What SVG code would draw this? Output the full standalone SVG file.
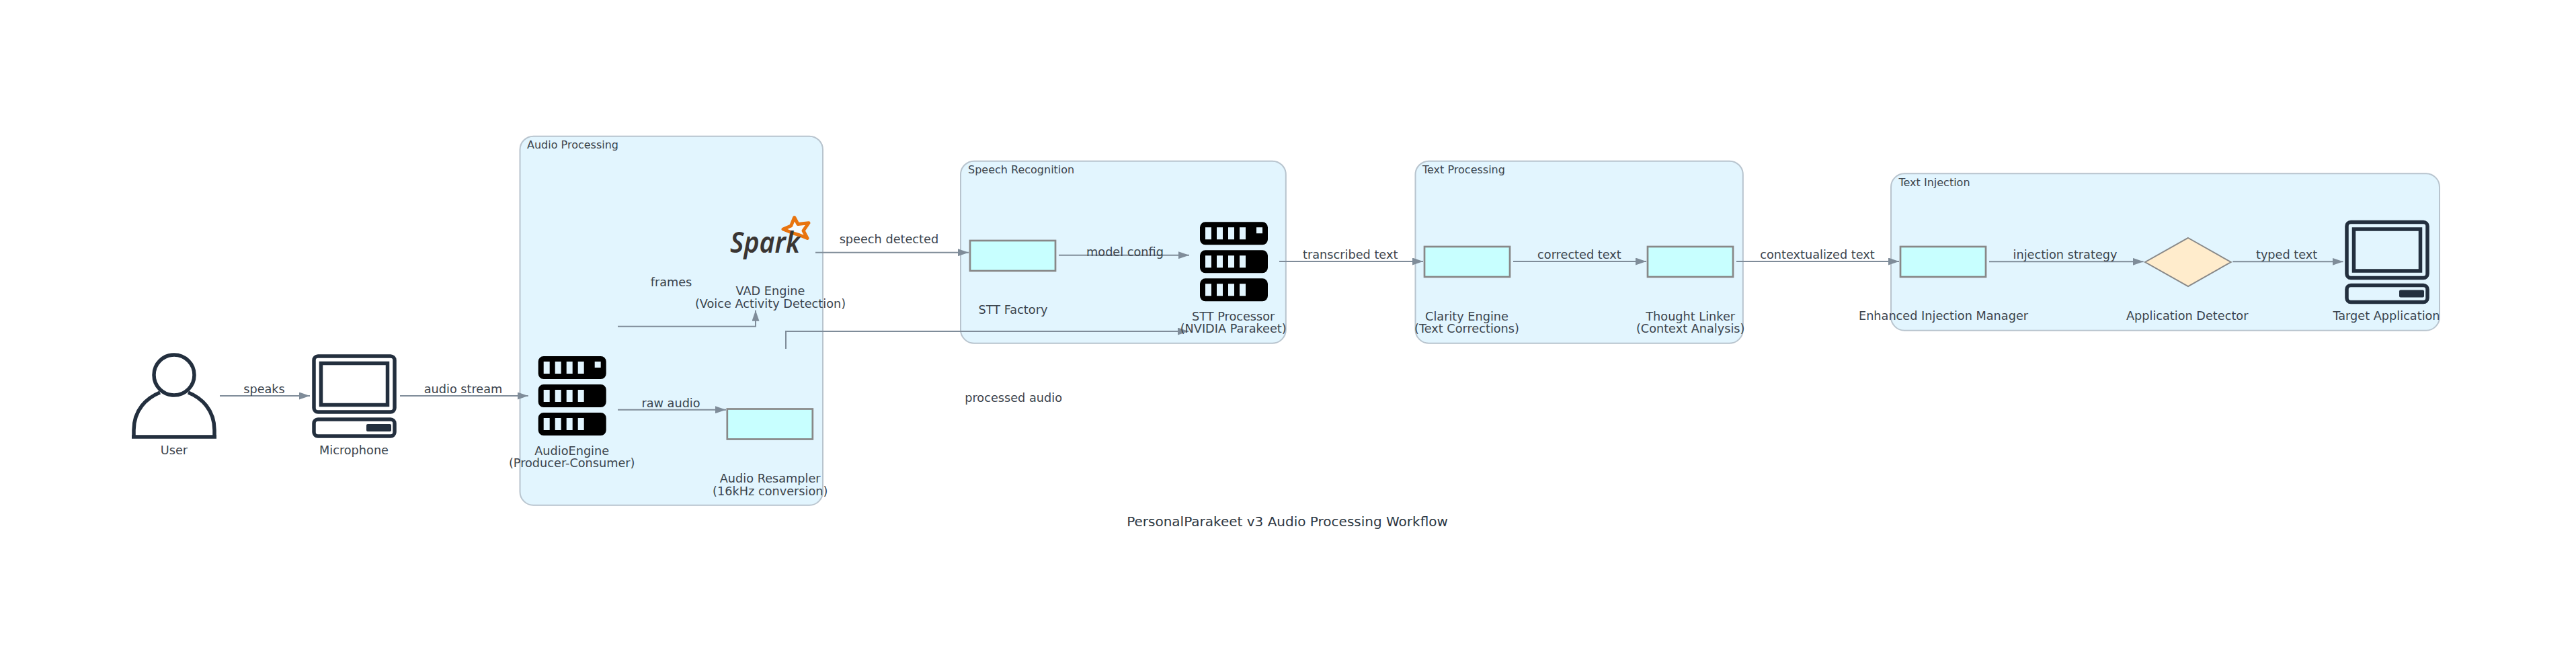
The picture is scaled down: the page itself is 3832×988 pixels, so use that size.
<svg xmlns="http://www.w3.org/2000/svg" width="3832" height="988" viewBox="0 0 3832 988">
<style>
text{font-family:"DejaVu Sans",sans-serif;font-size:17.7px;fill:#3b444d;text-anchor:middle}
.c{fill:#e2f5fe;stroke:#b8c4ce;stroke-width:2}
.ct{text-anchor:start;font-size:16px}
.r{fill:#c8ffff;stroke:#888;stroke-width:2.7}
.l{fill:none;stroke:#7f8c99;stroke-width:2;marker-end:url(#a)}
.i{fill:none;stroke:#232f3e;stroke-width:5.500}
.if{fill:#232f3e}
.title{font-size:20px;fill:#2f3842}
</style>
<defs>
<marker id="a" viewBox="0 0 16 11" refX="16" refY="5.5" markerWidth="16" markerHeight="11" markerUnits="userSpaceOnUse" orient="auto"><path d="M0 0L16 5.500L0 11z" fill="#7f8c99"/></marker>
<path id="srv" fill-rule="evenodd" fill="#000" d="M8 0H93a8 8 0 0 1 8 8V26a8 8 0 0 1-8 8H8a8 8 0 0 1-8-8V8a8 8 0 0 1 8-8zM8 8v18h9V8zM25 8v18h9V8zM42 8v18h9V8zM59 8v18h9V8zM8 42H93a8 8 0 0 1 8 8V68a8 8 0 0 1-8 8H8a8 8 0 0 1-8-8V50a8 8 0 0 1 8-8zM8 50v18h9V50zM25 50v18h9V50zM42 50v18h9V50zM59 50v18h9V50zM8 84H93a8 8 0 0 1 8 8V110a8 8 0 0 1-8 8H8a8 8 0 0 1-8-8V92a8 8 0 0 1 8-8zM8 92v18h9V92zM25 92v18h9V92zM42 92v18h9V92zM59 92v18h9V92zM84 8v9h9V8z"/>
<g id="pc">
<rect class="i" x="3" y="3" width="120" height="83" rx="6"/>
<rect class="i" x="13.500" y="13.500" width="99" height="62" />
<rect class="i" x="3" y="97" width="120" height="25" rx="6"/>
<rect class="if" x="81" y="104" width="37" height="11" rx="2"/>
</g>
</defs>
<g id="clusters">
<rect class="c" x="773.500" y="202.700" width="450.500" height="549" rx="20"/>
<rect class="c" x="1429" y="239.700" width="483.800" height="271" rx="20"/>
<rect class="c" x="2105.500" y="239.700" width="487.300" height="271" rx="20"/>
<rect class="c" x="2813" y="258.300" width="816" height="233.400" rx="20"/>
<text class="ct" x="784" y="221">Audio Processing</text>
<text class="ct" x="1440" y="258">Speech Recognition</text>
<text class="ct" x="2116" y="258">Text Processing</text>
<text class="ct" x="2824.500" y="277">Text Injection</text>
</g>
<g id="connectors">
<path class="l" d="M327 589H461"/>
<path class="l" d="M595 589H785.700"/>
<path class="l" d="M919 609.700H1080"/>
<path class="l" d="M919 485.700H1124V461.700"/>
<path class="l" d="M1213 375.700H1441"/>
<path class="l" d="M1169 519V493H1768"/>
<path class="l" d="M1575 379.700H1769"/>
<path class="l" d="M1903 389H2117"/>
<path class="l" d="M2251 389H2449"/>
<path class="l" d="M2583 389H2825"/>
<path class="l" d="M2959 389.300H3188.600"/>
<path class="l" d="M3321.400 389.300H3485.600"/>
</g>
<g id="edge-labels">
<text x="393" y="585">speaks</text>
<text x="689" y="585">audio stream</text>
<text x="998" y="606">raw audio</text>
<text x="998.500" y="426">frames</text>
<text x="1322.400" y="362">speech detected</text>
<text x="1507.600" y="598">processed audio</text>
<text x="1673.500" y="381">model config</text>
<text x="2008.700" y="385">transcribed text</text>
<text x="2349.400" y="385">corrected text</text>
<text x="2703.500" y="385">contextualized text</text>
<text x="3072" y="385">injection strategy</text>
<text x="3401.600" y="385">typed text</text>
</g>
<g id="user"><circle class="i" cx="259" cy="558" r="30"/><path class="i" d="M199 650V640C199 610 218 592 238 584M319 650V640C319 610 300 592 280 584M196 650H322"/><text x="259" y="676">User</text></g>
<g id="microphone"><use href="#pc" x="464" y="527"/><text x="526.500" y="676">Microphone</text></g>
<g id="audio-engine"><use href="#srv" x="800.700" y="530"/><text x="850.700" y="676.700">AudioEngine</text><text x="850.700" y="695">(Producer-Consumer)</text></g>
<g id="resampler"><rect class="r" x="1081.800" y="608.500" width="127" height="45"/><text x="1145.700" y="718">Audio Resampler</text><text x="1145.700" y="737">(16kHz conversion)</text></g>
<g id="vad"><path fill="#f4fbff" stroke="#e8740f" stroke-width="5" stroke-linejoin="round" d="M1181.700 323.500L1187 333.500L1203 331.700L1195 343.300L1201 354.500L1188 349.300L1180 347L1165 341L1176.700 336z"/>
<text x="1086" y="376" style="text-anchor:start;font-family:'Noto Sans',sans-serif;font-style:italic;font-weight:600;font-size:44px;fill:#3a3533" textLength="104" lengthAdjust="spacingAndGlyphs">Spark</text>
<text x="1146" y="439.300">VAD Engine</text><text x="1146" y="458">(Voice Activity Detection)</text></g>
<g id="stt-factory"><rect class="r" x="1443" y="358" width="127" height="45"/><text x="1507" y="467">STT Factory</text></g>
<g id="stt-processor"><use href="#srv" x="1785" y="330.300"/><text x="1834.700" y="477.300">STT Processor</text><text x="1834.700" y="495.300">(NVIDIA Parakeet)</text></g>
<g id="clarity"><rect class="r" x="2119" y="367" width="127" height="45"/><text x="2182" y="477.300">Clarity Engine</text><text x="2182" y="495.300">(Text Corrections)</text></g>
<g id="thought"><rect class="r" x="2451" y="367" width="127" height="45"/><text x="2514.700" y="477.300">Thought Linker</text><text x="2514.700" y="495.300">(Context Analysis)</text></g>
<g id="injection"><rect class="r" x="2827" y="367" width="127" height="45"/><text x="2891" y="476">Enhanced Injection Manager</text></g>
<g id="detector"><path d="M3255 354L3318.700 390L3255 426L3191 390z" fill="#ffeccc" stroke="#888" stroke-width="2"/><text x="3253.700" y="476">Application Detector</text></g>
<g id="target"><use href="#pc" x="3488" y="327.500"/><text x="3550" y="476">Target Application</text></g>
<text id="title" class="title" x="1915" y="783">PersonalParakeet v3 Audio Processing Workflow</text>
</svg>
